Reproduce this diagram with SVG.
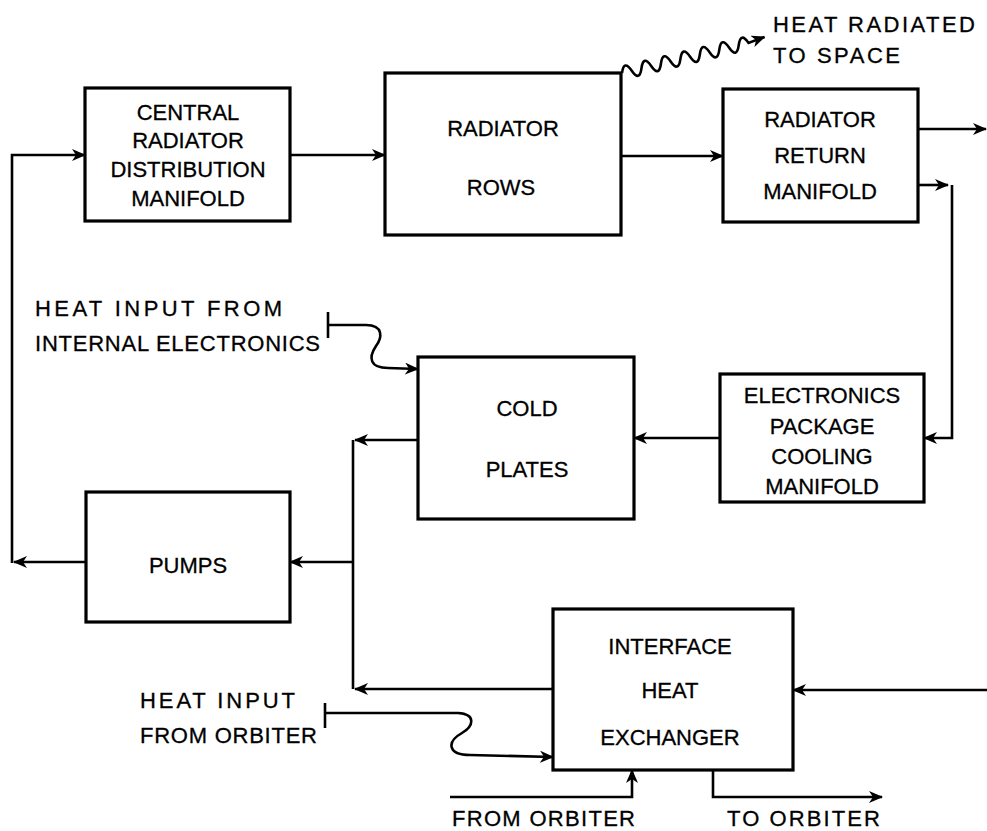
<svg xmlns="http://www.w3.org/2000/svg" width="987" height="831" viewBox="0 0 987 831">
<defs>
<marker id="ah" markerUnits="userSpaceOnUse" markerWidth="14" markerHeight="12" viewBox="0 0 14 12" refX="13" refY="6" orient="auto">
<path d="M0,0 L14,6 L0,12 L4,6 z" fill="#000"/>
</marker>
</defs>
<style>
.box{fill:#fff;stroke:#000;stroke-width:3.2}
.c{fill:none;stroke:#000;stroke-width:2.6}
.t{font-family:"Liberation Sans",Arial,sans-serif;font-size:22px;fill:#000;stroke:#000;stroke-width:0.3;text-anchor:middle}
.l{font-family:"Liberation Sans",Arial,sans-serif;font-size:22px;fill:#000;stroke:#000;stroke-width:0.3}
</style>
<rect width="987" height="831" fill="#fff"/>
<g id="connectors">
<path class="c" d="M12,563 L12,155 L85,155" marker-end="url(#ah)"/>
<path class="c" d="M290,155 L385,155" marker-end="url(#ah)"/>
<path class="c" d="M621,156 L723,156" marker-end="url(#ah)"/>
<path class="c" d="M918,129 L986,129" marker-end="url(#ah)"/>
<path class="c" d="M918,185 L948,185" marker-end="url(#ah)"/>
<path class="c" d="M952,185 L952,438 L924,438" marker-end="url(#ah)"/>
<path class="c" d="M720,438 L634,438" marker-end="url(#ah)"/>
<path class="c" d="M418,440 L355,440" marker-end="url(#ah)"/>
<path class="c" d="M353,440 L353,689"/>
<path class="c" d="M353,562 L290,562" marker-end="url(#ah)"/>
<path class="c" d="M86,562 L14,562" marker-end="url(#ah)"/>
<path class="c" d="M553,689 L355,689" marker-end="url(#ah)"/>
<path class="c" d="M987,690 L793,690" marker-end="url(#ah)"/>
<path class="c" d="M328,312 L328,338"/>
<path class="c" d="M328,325 L366,325 C384,325 382,338 376,346 C368,358 370,368 388,368 L418,369" marker-end="url(#ah)"/>
<path class="c" d="M325,703 L325,728"/>
<path class="c" d="M325,713 L458,713 C476,714 474,726 462,733 C446,742 448,755 470,755 L553,757" marker-end="url(#ah)"/>
<path class="c" d="M450,797 L632,797 L632,770" marker-end="url(#ah)"/>
<path class="c" d="M713,770 L713,797 L882,797" marker-end="url(#ah)"/>
<path class="c" d="M0,0 q5,-13 10,0 t10,0 t10,0 t10,0 t10,0 t10,0 t10,0 t10,0 t10,0 t10,0 t10,0 t10,0 t10,0 l17,-2" transform="translate(622,73) rotate(-13.4)" marker-end="url(#ah)"/>
</g>
<g id="central">
<rect class="box" x="85" y="88" width="205" height="133"/>
<text class="t" x="188" y="120">CENTRAL</text>
<text class="t" x="188" y="148">RADIATOR</text>
<text class="t" x="188" y="177">DISTRIBUTION</text>
<text class="t" x="188" y="206">MANIFOLD</text>
</g>
<g id="rows">
<rect class="box" x="385" y="73" width="236" height="162"/>
<text class="t" x="503" y="136">RADIATOR</text>
<text class="t" x="501" y="195">ROWS</text>
</g>
<g id="return">
<rect class="box" x="723" y="89" width="195" height="133"/>
<text class="t" x="820" y="127">RADIATOR</text>
<text class="t" x="820" y="163">RETURN</text>
<text class="t" x="820" y="199">MANIFOLD</text>
</g>
<g id="cold">
<rect class="box" x="418" y="357" width="216" height="162"/>
<text class="t" x="527" y="416">COLD</text>
<text class="t" x="527" y="477">PLATES</text>
</g>
<g id="elec">
<rect class="box" x="720" y="374" width="204" height="128"/>
<text class="t" x="822" y="403">ELECTRONICS</text>
<text class="t" x="822" y="434">PACKAGE</text>
<text class="t" x="822" y="464">COOLING</text>
<text class="t" x="822" y="494">MANIFOLD</text>
</g>
<g id="pumps">
<rect class="box" x="86" y="492" width="204" height="130"/>
<text class="t" x="188" y="573">PUMPS</text>
</g>
<g id="interface">
<rect class="box" x="553" y="609" width="240" height="161"/>
<text class="t" x="670" y="654">INTERFACE</text>
<text class="t" x="670" y="698">HEAT</text>
<text class="t" x="670" y="745">EXCHANGER</text>
</g>
<g id="labels">
<text class="l" x="773" y="32" textLength="202" lengthAdjust="spacing">HEAT RADIATED</text>
<text class="l" x="773" y="63" textLength="127" lengthAdjust="spacing">TO SPACE</text>
<text class="l" x="35" y="316" textLength="247" lengthAdjust="spacing">HEAT INPUT FROM</text>
<text class="l" x="35" y="351" textLength="285" lengthAdjust="spacing">INTERNAL ELECTRONICS</text>
<text class="l" x="140" y="708" textLength="155" lengthAdjust="spacing">HEAT INPUT</text>
<text class="l" x="140" y="743" textLength="177" lengthAdjust="spacing">FROM ORBITER</text>
<text class="l" x="452" y="826" textLength="183" lengthAdjust="spacing">FROM ORBITER</text>
<text class="l" x="727" y="826" textLength="153" lengthAdjust="spacing">TO ORBITER</text>
</g>
</svg>
